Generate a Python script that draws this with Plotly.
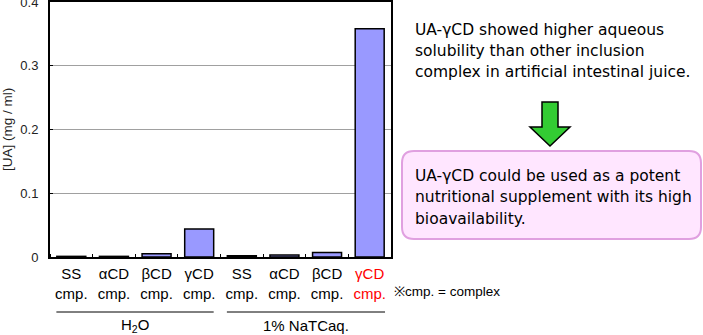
import plotly.graph_objects as go

# ---- data ----
categories = ["SS cmp.", "αCD cmp.", "βCD cmp.", "γCD cmp.", "SS cmp.", "αCD cmp.", "βCD cmp.", "γCD cmp."]
tick_top = ["SS", "αCD", "βCD", "γCD", "SS", "αCD", "βCD", "γCD"]
tick_bottom = ["cmp."] * 8
values = [0.001, 0.001, 0.005, 0.044, 0.002, 0.003, 0.007, 0.358]
groups = ["H<sub>2</sub>O", "1% NaTCaq."]
y_ticks = [0, 0.1, 0.2, 0.3, 0.4]

W, H = 703, 335
L, R, T, B = 50, 391, 2, 257  # plot area in pixels


def px(p):
    return (p - L) / (R - L)


def py(p):
    return (B - p) / (B - T)


ticktext = []
for i, (a, b) in enumerate(zip(tick_top, tick_bottom)):
    if i == 7:
        ticktext.append(f"<span style='color:#FF0000'>{a}<br>{b}</span>")
    else:
        ticktext.append(f"{a}<br>{b}")

fig = go.Figure()
fig.add_trace(go.Bar(
    x=list(range(len(values))), y=values,
    marker=dict(color="#9999FF", line=dict(color="#000000", width=1.5)),
    width=0.68,
))

fig.update_layout(
    width=W, height=H,
    margin=dict(l=L, r=W - R, t=T, b=H - B),
    paper_bgcolor="white", plot_bgcolor="white",
    showlegend=False,
    font=dict(family="Liberation Sans, Arial, sans-serif", color="#000000"),
    bargap=0.32,
)
fig.update_xaxes(
    range=[-0.5, 7.5],
    tickmode="array", tickvals=list(range(8)), ticktext=ticktext,
    tickfont=dict(size=15, color="#000000"),
    ticks="", showgrid=False, zeroline=False,
    showline=True, linecolor="#000000", linewidth=2, mirror=True,
    minor=dict(ticks="inside", tick0=0.5, dtick=1, ticklen=3, tickcolor="#000000", showgrid=False),
    ticklabelstandoff=2,
    automargin=False,
    fixedrange=True,
)
fig.update_yaxes(
    range=[0, 0.4],
    tickmode="array", tickvals=y_ticks, ticktext=["0", "0.1", "0.2", "0.3", "0.4"],
    tickfont=dict(size=13, color="#222222"),
    ticks="inside", ticklen=3, tickcolor="#000000",
    ticklabeloverflow="allow",
    showgrid=True, gridcolor="#A0A0A0", gridwidth=1,
    zeroline=False,
    showline=True, linecolor="#000000", linewidth=2, mirror=True,
    ticklabelstandoff=7,
    automargin=False,
    title=dict(text="[UA] (mg / ml)", font=dict(size=13.5, color="#222222"), standoff=6),
)

shapes = []
# group underline
shapes.append(dict(type="line", xref="x", yref="paper", x0=-0.35, x1=3.34, y0=py(312), y1=py(312),
                   line=dict(color="#000000", width=1)))
shapes.append(dict(type="line", xref="x", yref="paper", x0=3.65, x1=7.36, y0=py(312), y1=py(312),
                   line=dict(color="#000000", width=1)))

# green arrow
arrow_pts = [(542, 102), (558, 102), (558, 127), (570, 127), (550, 146), (530, 127), (542, 127)]
path = "M " + " L ".join(f"{px(x):.5f},{py(y):.5f}" for x, y in arrow_pts) + " Z"
shapes.append(dict(type="path", xref="paper", yref="paper", path=path,
                   fillcolor="#33CC33", line=dict(color="#000000", width=1.5)))

# rounded pink box
x0, x1, y0, y1, r = 402, 701, 151, 239, 12
pts = [
    ("M", (x0 + r, y0)), ("L", (x1 - r, y0)), ("Q", (x1, y0), (x1, y0 + r)),
    ("L", (x1, y1 - r)), ("Q", (x1, y1), (x1 - r, y1)),
    ("L", (x0 + r, y1)), ("Q", (x0, y1), (x0, y1 - r)),
    ("L", (x0, y0 + r)), ("Q", (x0, y0), (x0 + r, y0)),
]
parts = []
for item in pts:
    cmd = item[0]
    coords = " ".join(f"{px(x):.5f},{py(y):.5f}" for x, y in item[1:])
    parts.append(f"{cmd} {coords}")
box_path = " ".join(parts) + " Z"
shapes.append(dict(type="path", xref="paper", yref="paper", path=box_path,
                   fillcolor="#FFE6FF", line=dict(color="#E0A0E0", width=2), layer="above"))
fig.update_layout(shapes=shapes)

ann = []
# group labels
ann.append(dict(x=1.5, xref="x", y=py(325), yref="paper", text=groups[0], showarrow=False,
                font=dict(size=15, color="#000000"), xanchor="center", yanchor="middle"))
ann.append(dict(x=5.5, xref="x", y=py(325), yref="paper", text=groups[1], showarrow=False,
                font=dict(size=15, color="#000000"), xanchor="center", yanchor="middle"))
ann.append(dict(x=px(392), xref="paper", y=py(291), yref="paper", text="※cmp. = complex", showarrow=False,
                font=dict(size=13.5, color="#000000"), xanchor="left", yanchor="middle"))

rt_font = dict(size=15.5, color="#000000", family="DejaVu Sans, sans-serif")
lines1 = ["UA-γCD showed higher aqueous", "solubility than other inclusion",
          "complex in artificial intestinal juice."]
for i, t in enumerate(lines1):
    ann.append(dict(x=px(413), xref="paper", y=py(30 + 21 * i), yref="paper", text=t, showarrow=False,
                    font=rt_font, xanchor="left", yanchor="middle"))
lines2 = ["UA-γCD could be used as a potent", "nutritional supplement with its high",
          "bioavailability."]
for i, t in enumerate(lines2):
    ann.append(dict(x=px(413), xref="paper", y=py(176 + 21.5 * i), yref="paper", text=t, showarrow=False,
                    font=rt_font, xanchor="left", yanchor="middle"))
fig.update_layout(annotations=ann)

fig.write_html("out.html")
